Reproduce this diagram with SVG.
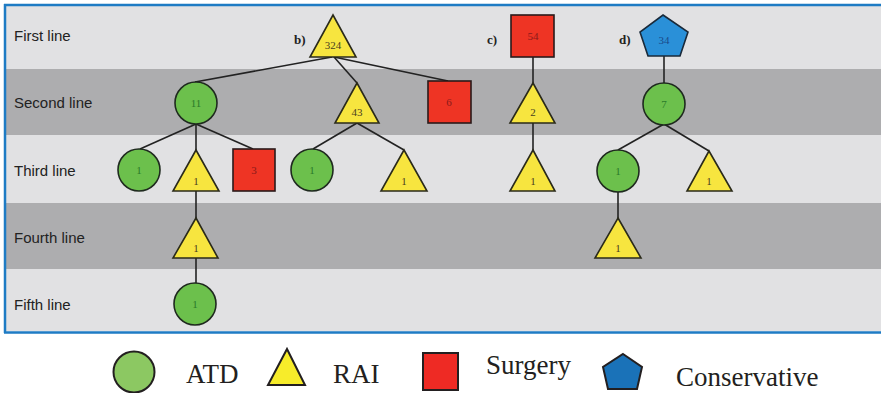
<svg xmlns="http://www.w3.org/2000/svg" width="881" height="393" viewBox="0 0 881 393">
  <style>
    .band-light { fill: #e1e1e3; }
    .band-dark { fill: #adadaf; }
    .row-label { font-family: "Liberation Sans", Arial, sans-serif; font-size: 15px; fill: #222; }
    .tag { font-family: "Liberation Serif", "Times New Roman", serif; font-size: 13px; font-weight: bold; fill: #222; }
    .edge { stroke: #222; stroke-width: 1.6; fill: none; }
    .atd { fill: #6cc04c; stroke: #1f2a1f; stroke-width: 1.6; }
    .rai { fill: #f7e53f; stroke: #2a2a1a; stroke-width: 1.6; stroke-linejoin: miter; }
    .surg { fill: #ee3424; stroke: #2a1a1a; stroke-width: 1.6; }
    .cons { fill: #2a90d8; stroke: #1a2a3a; stroke-width: 1.6; }
    .num { font-family: "Liberation Serif", "Times New Roman", serif; font-size: 11px; text-anchor: middle; }
    .num-atd { fill: #2a7a2a; }
    .num-rai { fill: #4a4020; }
    .num-surg { fill: #8a1a1a; }
    .num-cons { fill: #1a4a8a; }
    .leg-text { font-family: "Liberation Serif", "Times New Roman", serif; font-size: 27px; fill: #231f20; }
    .leg-atd { fill: #8cc862; stroke: #231f20; stroke-width: 2; }
    .leg-rai { fill: #f7ec2a; stroke: #231f20; stroke-width: 2; }
    .leg-surg { fill: #ee2a24; stroke: #231f20; stroke-width: 2; }
    .leg-cons { fill: #1a72b8; stroke: #231f20; stroke-width: 2; }
  </style>

  <rect x="0" y="0" width="881" height="393" fill="#ffffff"/>

  <!-- treatment-line bands -->
  <g id="bands">
    <rect class="band-light" x="6" y="6" width="875" height="63"/>
    <rect class="band-dark" x="6" y="69" width="875" height="66"/>
    <rect class="band-light" x="6" y="135" width="875" height="68"/>
    <rect class="band-dark" x="6" y="203" width="875" height="66"/>
    <rect class="band-light" x="6" y="269" width="875" height="62"/>
    <path d="M5 4 V333 M4 5 H881 M4 332.5 H881" stroke="#1e7bc4" stroke-width="2.5" fill="none"/>
  </g>

  <g id="row-labels">
    <text class="row-label" x="14" y="41">First line</text>
    <text class="row-label" x="14" y="108">Second line</text>
    <text class="row-label" x="14" y="176">Third line</text>
    <text class="row-label" x="14" y="243">Fourth line</text>
    <text class="row-label" x="14" y="310">Fifth line</text>
  </g>

  <g id="tags">
    <text class="tag" x="294" y="44">b)</text>
    <text class="tag" x="487" y="44">c)</text>
    <text class="tag" x="619" y="44">d)</text>
  </g>

  <!-- connectors -->
  <g id="connectors">
    <line class="edge" x1="332" y1="57" x2="195" y2="82"/>
    <line class="edge" x1="334" y1="57" x2="357" y2="83"/>
    <line class="edge" x1="334" y1="57" x2="448" y2="81"/>
    <line class="edge" x1="196" y1="124" x2="140" y2="149"/>
    <line class="edge" x1="196" y1="124" x2="196" y2="150"/>
    <line class="edge" x1="196" y1="124" x2="253" y2="149"/>
    <line class="edge" x1="196" y1="191" x2="196" y2="218"/>
    <line class="edge" x1="196" y1="258" x2="196" y2="283"/>
    <line class="edge" x1="357" y1="123" x2="313" y2="149"/>
    <line class="edge" x1="357" y1="123" x2="404" y2="150"/>
    <line class="edge" x1="533" y1="57" x2="533" y2="83"/>
    <line class="edge" x1="533" y1="123" x2="533" y2="150"/>
    <line class="edge" x1="664" y1="56" x2="664" y2="83"/>
    <line class="edge" x1="664" y1="124" x2="618" y2="150"/>
    <line class="edge" x1="664" y1="124" x2="709" y2="151"/>
    <line class="edge" x1="618" y1="192" x2="618" y2="218"/>
  </g>

  <!-- tree b -->
  <g id="b-rai-324">
    <polygon class="rai" points="333,15 356,57 310,57"/>
    <text class="num num-rai" x="333" y="49">324</text>
  </g>
  <g id="b-atd-11">
    <circle class="atd" cx="196" cy="103" r="21"/>
    <text class="num num-atd" x="196" y="107">11</text>
  </g>
  <g id="b-rai-43">
    <polygon class="rai" points="357,83 379,123 335,123"/>
    <text class="num num-rai" x="357" y="116">43</text>
  </g>
  <g id="b-surg-6">
    <rect class="surg" x="428" y="81" width="43" height="42"/>
    <text class="num num-surg" x="449" y="106">6</text>
  </g>
  <g id="b-atd-1a">
    <circle class="atd" cx="139" cy="170" r="21"/>
    <text class="num num-atd" x="139" y="174">1</text>
  </g>
  <g id="b-rai-1a">
    <polygon class="rai" points="196,150 219,191 173,191"/>
    <text class="num num-rai" x="196" y="185">1</text>
  </g>
  <g id="b-surg-3">
    <rect class="surg" x="233" y="149" width="42" height="42"/>
    <text class="num num-surg" x="254" y="174">3</text>
  </g>
  <g id="b-atd-1b">
    <circle class="atd" cx="312" cy="170" r="21"/>
    <text class="num num-atd" x="312" y="174">1</text>
  </g>
  <g id="b-rai-1b">
    <polygon class="rai" points="404,150 427,191 381,191"/>
    <text class="num num-rai" x="404" y="185">1</text>
  </g>
  <g id="b-rai-1c">
    <polygon class="rai" points="196,218 218,258 173,258"/>
    <text class="num num-rai" x="196" y="252">1</text>
  </g>
  <g id="b-atd-1c">
    <circle class="atd" cx="195" cy="304" r="21"/>
    <text class="num num-atd" x="195" y="308">1</text>
  </g>

  <!-- tree c -->
  <g id="c-surg-54">
    <rect class="surg" x="511" y="15" width="43" height="42"/>
    <text class="num num-surg" x="533" y="40">54</text>
  </g>
  <g id="c-rai-2">
    <polygon class="rai" points="533,83 555,123 510,123"/>
    <text class="num num-rai" x="533" y="116">2</text>
  </g>
  <g id="c-rai-1">
    <polygon class="rai" points="533,150 555,191 510,191"/>
    <text class="num num-rai" x="533" y="185">1</text>
  </g>

  <!-- tree d -->
  <g id="d-cons-34">
    <polygon class="cons" points="663,15 688,32 680,56 648,56 640,32"/>
    <text class="num num-cons" x="664" y="44">34</text>
  </g>
  <g id="d-atd-7">
    <circle class="atd" cx="664" cy="104" r="21"/>
    <text class="num num-atd" x="664" y="108">7</text>
  </g>
  <g id="d-atd-1">
    <circle class="atd" cx="618" cy="171" r="21"/>
    <text class="num num-atd" x="618" y="175">1</text>
  </g>
  <g id="d-rai-1a">
    <polygon class="rai" points="709,151 732,191 687,191"/>
    <text class="num num-rai" x="709" y="185">1</text>
  </g>
  <g id="d-rai-1b">
    <polygon class="rai" points="618,218 641,258 595,258"/>
    <text class="num num-rai" x="618" y="252">1</text>
  </g>

  <!-- legend -->
  <g id="legend">
    <circle class="leg-atd" cx="134" cy="372" r="20.5"/>
    <text class="leg-text" x="186" y="383">ATD</text>
    <polygon class="leg-rai" points="287,349 305,385 268,385"/>
    <text class="leg-text" x="333" y="383">RAI</text>
    <rect class="leg-surg" x="423" y="353" width="35" height="37"/>
    <text class="leg-text" x="486" y="374">Surgery</text>
    <polygon class="leg-cons" points="623,354 642,367 637,389 608,389 603,367"/>
    <text class="leg-text" x="676" y="386">Conservative</text>
  </g>
</svg>
